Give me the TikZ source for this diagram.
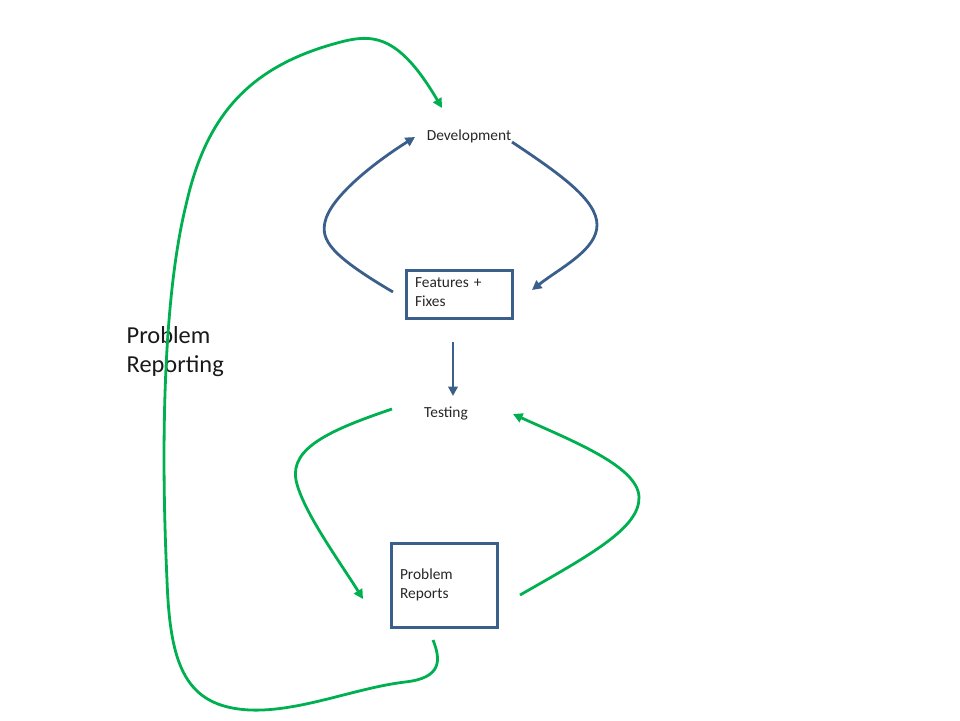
\documentclass[tikz,border=0pt]{standalone}
\usepackage{fontspec}
\setmainfont{Carlito}
\usetikzlibrary{arrows.meta}
\definecolor{dblue}{HTML}{3A5F8B}
\definecolor{lgreen}{HTML}{00B050}
\tikzset{
  lbl/.style={inner sep=0pt, font=\fontsize{15.4}{19}\selectfont, text=black!85},
  boxnode/.style={draw=dblue, line width=3pt, minimum width=106pt, align=left, inner xsep=9pt, inner ysep=0pt, font=\fontsize{15.4}{19}\selectfont, text=black!85, anchor=north west},
  barrow/.style={draw=dblue, line width=2.8pt, -{Triangle[length=9.5pt,width=9.5pt]}},
  garrow/.style={draw=lgreen, line width=2.8pt, -{Triangle[length=9.5pt,width=9.5pt]}},
}
\begin{document}
\begin{tikzpicture}[x=1pt,y=-1pt]
\useasboundingbox (0,0) rectangle (960,720);
% nodes
\node[lbl] (dev) at (469,136.5) {Development};
\node[lbl] (test) at (446,413.5) {Testing};
\node[boxnode, minimum height=48pt, text width=88pt] (ff) at (404.5,268.5) {Features +\\Fixes\rule[-4pt]{0pt}{4pt}};
\node[boxnode, minimum height=84pt, text width=88pt] (pr) at (389.5,541.5) {Problem\\Reports};
\node[inner sep=0pt, anchor=west, align=left, font=\fontsize{24.4}{29}\selectfont, text=black!90] (rep) at (126.5,351.5) {Problem\\Reporting};
% endpoints
\coordinate (b1s) at (393,292); \coordinate (b1e) at (415,137);
\coordinate (b2s) at (512,142); \coordinate (b2e) at (532,290);
\coordinate (b3s) at (453,342); \coordinate (b3e) at (453,396);
\coordinate (g1s) at (392,409); \coordinate (g1e) at (363,599);
\coordinate (g2s) at (520,595); \coordinate (g2e) at (513,414);
\coordinate (g3s) at (433,640); \coordinate (g3e) at (442,108);
% blue connectors
\draw[barrow] (b1s) .. controls (330,255) and (321,240) .. (325,222) .. controls (330,198) and (372,164) .. (b1e);
\draw[barrow] (b2s) .. controls (560,174) and (597,200) .. (597,225) .. controls (597,250) and (560,268) .. (b2e);
\draw[barrow] (b3s) -- (b3e);
% green connectors
\draw[garrow] (g1s) .. controls (330,430) and (290,448) .. (296,480) .. controls (302,510) and (340,562) .. (g1e);
\draw[garrow] (g2s) .. controls (590,555) and (640,528) .. (639,497) .. controls (638,466) and (570,440) .. (g2e);
\draw[garrow] (g3s) .. controls (441,660) and (442,678) .. (405,682)
  .. controls (355,688) and (300,712) .. (250,710)
  .. controls (185,707) and (170,665) .. (167,580)
  .. controls (160,430) and (165,290) .. (186,205)
  .. controls (205,120) and (245,70) .. (330,45)
  .. controls (368,34) and (395,28) .. (g3e);
\end{tikzpicture}
\end{document}
